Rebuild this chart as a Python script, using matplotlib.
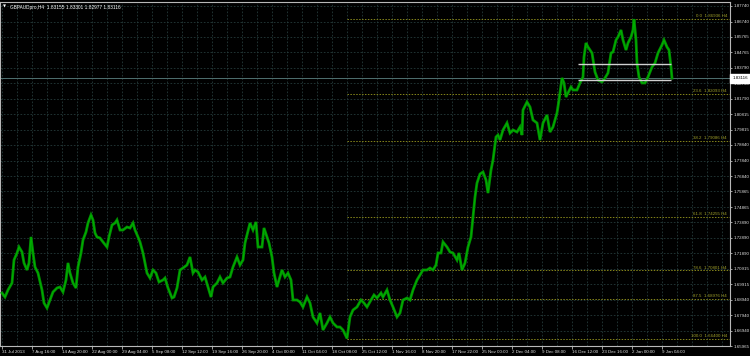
import matplotlib
matplotlib.use('Agg')
import matplotlib.pyplot as plt
import matplotlib.transforms as mtransforms

# ---------------- data ----------------
symbol_title = "GBPAUDpro,H4  1.83155 1.83301 1.82977 1.83116"

bars = [2, 5, 8, 12, 14, 17, 19, 22, 24, 27, 29, 31, 33, 35, 38, 42, 44, 47, 50, 53,
        57, 60, 63, 66, 68, 70, 73, 76, 78, 81, 83, 86, 88, 91, 93, 95, 97, 100, 103, 107,
        109, 112, 115, 117, 120, 123, 127, 130, 133, 135, 138, 140, 143, 145, 147, 150, 153, 156, 159, 163,
        165, 168, 172, 174, 177, 180, 183, 187, 190, 193, 195, 198, 202, 205, 208, 211, 213, 217, 220, 223,
        227, 230, 233, 237, 240, 243, 245, 247, 250, 253, 256, 258, 262, 264, 267, 269, 272, 274, 277, 279,
        282, 285, 288, 291, 293, 297, 300, 303, 307, 310, 313, 317, 320, 323, 327, 330, 333, 337, 340, 343,
        347, 350, 353, 357, 361, 364, 367, 371, 374, 377, 381, 383, 387, 390, 393, 397, 400, 403, 407, 410,
        413, 417, 420, 423, 427, 430, 433, 436, 438, 441, 443, 447, 450, 453, 457, 459, 462, 465, 468, 471,
        473, 475, 477, 480, 483, 486, 488, 491, 493, 496, 498, 500, 503, 507, 510, 513, 517, 520, 522, 523,
        527, 530, 533, 537, 540, 543, 547, 550, 553, 557, 559, 562, 564, 566, 568, 571, 573, 577, 580, 583,
        584, 586, 588, 592, 595, 598, 602, 605, 608, 611, 613, 616, 618, 621, 623, 626, 628, 631, 633, 634,
        636, 637, 639, 642, 645, 648, 652, 655, 658, 662, 664, 667, 669, 671, 672]

closes = [1.69359, 1.69103, 1.69551, 1.70000, 1.71473, 1.71921, 1.72305, 1.71985, 1.71281, 1.70832,
          1.71281, 1.72946, 1.71921, 1.71024, 1.70640, 1.69551, 1.68719, 1.68399, 1.68911, 1.69423,
          1.69680, 1.69744, 1.69423, 1.70192, 1.71281, 1.70640, 1.70000, 1.69680, 1.71024, 1.71921,
          1.72754, 1.73266, 1.73842, 1.74355, 1.74035, 1.73202, 1.72946, 1.72882, 1.72626, 1.72305,
          1.72946, 1.73714, 1.73842, 1.74035, 1.73394, 1.73394, 1.73586, 1.73522, 1.73842, 1.73394,
          1.72946, 1.72626, 1.71921, 1.71281, 1.70640, 1.70320, 1.70832, 1.70640, 1.70064, 1.70192,
          1.70320, 1.69680, 1.69039, 1.69103, 1.69680, 1.70832, 1.70960, 1.71153, 1.71665, 1.70640,
          1.70832, 1.70704, 1.70192, 1.70384, 1.69744, 1.69103, 1.69744, 1.70000, 1.70384, 1.70000,
          1.70320, 1.70384, 1.71024, 1.71665, 1.71153, 1.71473, 1.72562, 1.73074, 1.73842, 1.73394,
          1.73906, 1.72305, 1.72305, 1.73522, 1.72946, 1.72562, 1.71665, 1.70640, 1.69744, 1.70192,
          1.70832, 1.70384, 1.70640, 1.70192, 1.68911, 1.68911, 1.68783, 1.68463, 1.69103, 1.68719,
          1.67822, 1.67438, 1.68078, 1.66990, 1.67438, 1.67822, 1.67438, 1.67182, 1.67182, 1.66990,
          1.66450, 1.67822, 1.68271, 1.68463, 1.68911, 1.68719, 1.68463, 1.68911, 1.69231, 1.69039,
          1.69359, 1.69103, 1.69551, 1.68911, 1.68463, 1.67822, 1.68078, 1.68911, 1.69039, 1.68911,
          1.69551, 1.70192, 1.70512, 1.70832, 1.70832, 1.70960, 1.70832, 1.71153, 1.71921, 1.71921,
          1.72626, 1.72305, 1.71985, 1.71921, 1.71473, 1.71921, 1.70832, 1.71281, 1.72305, 1.72946,
          1.74227, 1.75508, 1.76404, 1.76981, 1.77109, 1.76596, 1.75764, 1.77237, 1.77877, 1.79350,
          1.79478, 1.79158, 1.79799, 1.80247, 1.79606, 1.79799, 1.79670, 1.79991, 1.79478, 1.81079,
          1.81592, 1.81272, 1.80439, 1.80247, 1.79158, 1.80247, 1.80759, 1.79670, 1.79991, 1.80887,
          1.81720, 1.83129, 1.82809, 1.81912, 1.82168, 1.82552, 1.82360, 1.82360, 1.82809, 1.83193,
          1.84474, 1.85370, 1.85114, 1.84730, 1.83513, 1.83001, 1.82873, 1.83129, 1.83449, 1.84730,
          1.84794, 1.85562, 1.85755, 1.86203, 1.85562, 1.84922, 1.85370, 1.85755, 1.86203, 1.86900,
          1.85562, 1.84089, 1.83193, 1.82809, 1.82809, 1.83193, 1.83833, 1.84089, 1.84730, 1.85242,
          1.85562, 1.85114, 1.84922, 1.83833, 1.83116]

x_labels = ["31 Jul 2013", "7 Aug 16:00", "14 Aug 20:00", "22 Aug 00:00", "29 Aug 04:00",
            "5 Sep 08:00", "12 Sep 12:00", "19 Sep 16:00", "26 Sep 20:00", "4 Oct 00:00",
            "11 Oct 04:00", "18 Oct 08:00", "25 Oct 12:00", "1 Nov 16:00", "8 Nov 20:00",
            "17 Nov 22:00", "25 Nov 00:00", "2 Dec 04:00", "9 Dec 08:00", "16 Dec 12:00",
            "23 Dec 16:00", "2 Jan 00:00", "9 Jan 04:00"]

y_ticks = [1.87740, 1.86740, 1.85765, 1.84765, 1.83790, 1.82790, 1.81790, 1.80815,
           1.79815, 1.78840, 1.77840, 1.76840, 1.75865, 1.74865, 1.73890, 1.72890,
           1.71890, 1.70915, 1.69915, 1.68940, 1.67940, 1.66940, 1.65965]

fib_levels = [0.0, 23.6, 38.2, 61.8, 78.6, 87.5, 100.0]
fib_prices = [1.86936, 1.82093, 1.79086, 1.74255, 1.70801, 1.68976, 1.66400]
fib_start_bar = 347

last_price = 1.83116
box_prices = [1.84000, 1.83000]
box_bars = [578, 671]

FONT = 'Liberation Sans'
FS_Y = 3.2
FS = 3.2

# ---------------- figure ----------------
W, H = 750, 356
fig = plt.figure(figsize=(W / 100, H / 100), dpi=100, facecolor='black')
ax = fig.add_axes([0, 10 / H, 730 / W, 344 / H])
ax.set_facecolor('black')
ax.set_xlim(0, 730)
ax.set_ylim(1.65965, 1.87996)

grid_col = '#253a3a'
for yv in y_ticks:
    ax.axhline(yv, color=grid_col, lw=0.6, ls=(0, (2, 2)), zorder=0)
for k in range(49):
    ax.axvline(2 + 15 * k, color=grid_col, lw=0.6, ls=(0, (2, 2)), zorder=0)

# fibonacci
fib_col = '#86861a'
ax.hlines(fib_prices, fib_start_bar, 730, colors=fib_col, linestyles=(0, (1.5, 1.5)), lw=0.7, zorder=1)
for lev, p in zip(fib_levels, fib_prices):
    ax.annotate(f"{lev:.1f}  {p:.5f} H4", xy=(727, p), xytext=(0, 0.6), textcoords='offset points',
                ha='right', va='bottom', fontsize=FS_Y, color='#a0a02a', family=FONT)

# current price line
ax.axhline(last_price, color='#4f7070', lw=0.7, zorder=2)

# price
ax.plot(bars, closes, color='#008e00', lw=2.0, zorder=3, solid_joinstyle='miter')
ax.plot(bars, closes, color='#00b400', lw=0.6, zorder=3)

# white horizontal lines
ax.hlines(box_prices, box_bars[0], box_bars[1], colors='#d0d0d0', lw=1.0, zorder=4)

# axes styling
for s in ['left', 'right', 'top', 'bottom']:
    ax.spines[s].set_color('#b8b8b8')
    ax.spines[s].set_linewidth(0.8)
ax.yaxis.tick_right()
ax.set_yticks(y_ticks)
ax.set_yticklabels([f"{v:.5f}" for v in y_ticks], family=FONT)
ax.tick_params(axis='y', colors='#e0e0e0', labelsize=FS_Y, length=1.5, width=0.5, pad=1.0)
ax.set_xticks([2 + 30 * k for k in range(len(x_labels))])
ax.set_xticklabels(x_labels, ha='left', family=FONT)
ax.tick_params(axis='x', colors='#e0e0e0', labelsize=FS, length=2, width=0.5, pad=1.0)

# current price box on axis
trans = mtransforms.blended_transform_factory(ax.transAxes, ax.transData)
ax.text(1.003, last_price, f"{last_price:.5f}", transform=trans, ha='left', va='center',
        fontsize=FS_Y, color='black', clip_on=False, zorder=6, family=FONT,
        bbox=dict(facecolor='white', edgecolor='white', pad=0.6, boxstyle='square'))

# title
ax.text(0.004, 0.992, "\u25bc", transform=ax.transAxes, ha='left', va='top',
        fontsize=2.8, color='white', family='DejaVu Sans')
ax.text(0.014, 0.992, symbol_title, transform=ax.transAxes, ha='left', va='top',
        fontsize=3.4, color='white', family=FONT)

fig.savefig('out.png', dpi=100, facecolor='black')
